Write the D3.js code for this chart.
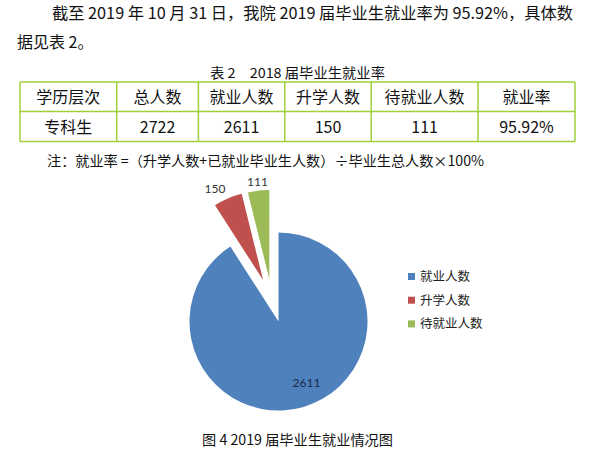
<!DOCTYPE html>
<html><head><meta charset="utf-8">
<script src="https://cdn.jsdelivr.net/npm/d3@7"></script>
<style>
html,body{margin:0;padding:0;background:#fff;}
svg{display:block;font-family:"Noto Sans CJK SC","Noto Sans",sans-serif;}
</style></head>
<body>
<svg id="c" width="605" height="454"></svg>
<script>
// ---- data ----
const paragraphLines = ["截至 2019 年 10 月 31 日，我院 2019 届毕业生就业率为 95.92%，具体数", "据见表 2。"];
const tableTitle = "表 2　2018 届毕业生就业率";
const tableHeaders = ["学历层次", "总人数", "就业人数", "升学人数", "待就业人数", "就业率"];
const tableRow = ["专科生", "2722", "2611", "150", "111", "95.92%"];
const noteText = "注：就业率 =（升学人数+已就业毕业生人数）÷毕业生总人数×100%";
const categories = ["就业人数", "升学人数", "待就业人数"];
const values = [2611, 150, 111];
const figureCaption = "图 4 2019 届毕业生就业情况图";

// ---- style ----
const colors = ["#4F81BD", "#C0504D", "#9BBB59"];
const explode = [[0, 0], [-15.4, -41.4], [-9.2, -42.5]];
const labelRadius = [67, 103, 98];
const labelAngleNudge = [-8.3, -4.5, 0];

const svg = d3.select("#c");

// paragraph
svg.append("text").attr("x", 52).attr("y", 18.7).attr("font-size", 16).attr("fill", "#111")
  .attr("textLength", 521).attr("lengthAdjust", "spacingAndGlyphs").text(paragraphLines[0]);
svg.append("text").attr("x", 17).attr("y", 47.7).attr("font-size", 16).attr("fill", "#111")
  .text(paragraphLines[1]);

// table title
svg.append("text").attr("x", 297.5).attr("y", 78).attr("font-size", 13.5).attr("fill", "#111")
  .attr("text-anchor", "middle").attr("textLength", 175).attr("lengthAdjust", "spacingAndGlyphs").text(tableTitle);

// table
const colEdges = [20, 116.7, 198.4, 284.8, 371.2, 478, 575];
const rowEdges = [82, 111.5, 141.5];
const tg = svg.append("g");
const border = "#9fd03a";
rowEdges.forEach(y => tg.append("line").attr("x1", colEdges[0]).attr("x2", colEdges[colEdges.length-1])
  .attr("y1", y).attr("y2", y).attr("stroke", border).attr("stroke-width", 1.5));
colEdges.forEach(x => tg.append("line").attr("x1", x).attr("x2", x)
  .attr("y1", rowEdges[0]).attr("y2", rowEdges[2]).attr("stroke", border).attr("stroke-width", 1.5));
[tableHeaders, tableRow].forEach((row, ri) => {
  row.forEach((t, ci) => {
    tg.append("text").attr("x", (colEdges[ci] + colEdges[ci+1]) / 2)
      .attr("y", (rowEdges[ri] + rowEdges[ri+1]) / 2 + 6)
      .attr("text-anchor", "middle").attr("font-size", 16).attr("fill", "#111").text(t);
  });
});

// note
svg.append("text").attr("x", 47).attr("y", 166).attr("font-size", 14).attr("fill", "#111")
  .attr("textLength", 437).attr("lengthAdjust", "spacingAndGlyphs").text(noteText);

// pie
const cx = 278.5, cy = 321.5, r = 89;
const pie = d3.pie().sort(null).startAngle(0).endAngle(2 * Math.PI);
const arcs = pie(values);
const arc = d3.arc().innerRadius(0).outerRadius(r);
const pg = svg.append("g").attr("transform", `translate(${cx},${cy})`);
arcs.forEach((a, i) => {
  const g = pg.append("g").attr("transform", `translate(${explode[i][0]},${explode[i][1]})`);
  g.append("path").attr("d", arc(a)).attr("fill", colors[i]);
  const ang = (a.startAngle + a.endAngle) / 2 + labelAngleNudge[i] * Math.PI / 180;
  const lr = labelRadius[i];
  g.append("text").attr("x", Math.sin(ang) * lr).attr("y", -Math.cos(ang) * lr)
    .attr("dy", "0.35em").attr("text-anchor", "middle").attr("font-size", 12)
    .attr("font-family", "Lato, 'Noto Sans', sans-serif")
    .attr("fill", i === 0 ? "#1c2b48" : "#333").text(values[i]);
});

// legend
const lg = svg.append("g").attr("transform", "translate(408,276.5)");
categories.forEach((c, i) => {
  const y = i * 23.7;
  lg.append("rect").attr("x", 0).attr("y", y - 3.5).attr("width", 7).attr("height", 7).attr("fill", colors[i]);
  lg.append("text").attr("x", 12).attr("y", y + 4.5).attr("font-size", 12.5).attr("fill", "#222").text(c);
});

// caption
svg.append("text").attr("x", 297.5).attr("y", 445).attr("font-size", 14).attr("fill", "#111")
  .attr("text-anchor", "middle").attr("textLength", 191).attr("lengthAdjust", "spacingAndGlyphs").text(figureCaption);
</script>
</body></html>
